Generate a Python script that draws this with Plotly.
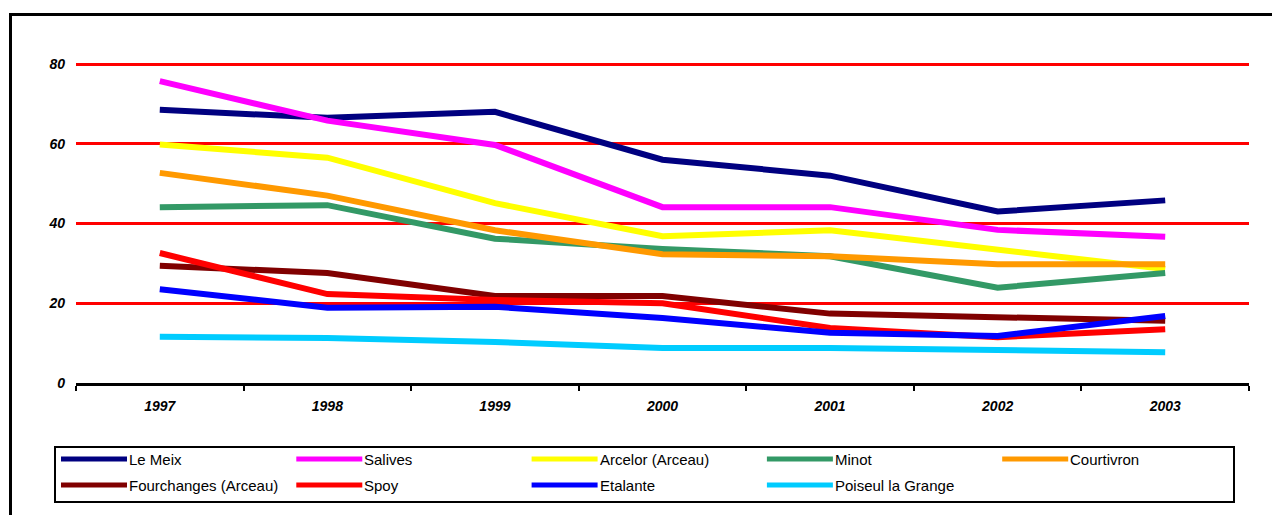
import plotly.graph_objects as go

# Production per site, 1997-2003
years = ["1997", "1998", "1999", "2000", "2001", "2002", "2003"]

le_meix = [68.5, 66.5, 68.0, 56.0, 52.0, 43.0, 45.8]
salives = [75.7, 65.8, 59.7, 44.1, 44.1, 38.4, 36.7]
arcelor = [59.8, 56.5, 45.1, 36.8, 38.3, 33.4, 28.6]
minot = [44.1, 44.6, 36.2, 33.6, 31.8, 23.9, 27.6]
courtivron = [52.7, 47.0, 38.3, 32.3, 31.8, 29.8, 29.8]
fourchanges = [29.4, 27.6, 21.8, 21.8, 17.4, 16.4, 15.6]
spoy = [32.6, 22.3, 20.8, 20.0, 13.8, 11.5, 13.5]
etalante = [23.5, 18.9, 19.1, 16.3, 12.6, 11.8, 16.8]
poiseul = [11.6, 11.3, 10.3, 8.8, 8.8, 8.1, 7.7]

series_names = ["Le Meix", "Salives", "Arcelor (Arceau)", "Minot", "Courtivron",
                "Fourchanges (Arceau)", "Spoy", "Etalante", "Poiseul la Grange"]
series_values = [le_meix, salives, arcelor, minot, courtivron,
                 fourchanges, spoy, etalante, poiseul]
series_colors = ["#000080", "#FF00FF", "#FFFF00", "#339966", "#FF9900",
                 "#800000", "#FF0000", "#0000FF", "#00CCFF"]

y_ticks = [0, 20, 40, 60, 80]

# page geometry (pixels); plot top sits a little above the 80 line
W, H = 1272, 515
L, R, T, B = 76, 23, 62, 132
PW, PH = W - L - R, H - T - B
Y_TOP = 80 * PH / (H - B - 64)


def px(xp):
    return (xp - L) / PW


def py(yp):
    return (H - B - yp) / PH


fig = go.Figure()
for name, vals, col in zip(series_names, series_values, series_colors):
    fig.add_trace(go.Scatter(x=years, y=vals, name=name, mode="lines",
                             line=dict(color=col, width=6),
                             showlegend=False))

tick_font = dict(family="Liberation Sans", size=14, color="black",
                 weight="bold", style="italic")

fig.update_xaxes(type="category", range=[-0.5, 6.5], showgrid=False,
                 showline=True, linecolor="black", linewidth=3,
                 ticks="outside", tickson="boundaries", ticklen=5,
                 tickwidth=2, tickcolor="black", tickfont=tick_font,
                 ticklabelstandoff=8, zeroline=False)
fig.update_yaxes(range=[0, Y_TOP], tickvals=y_ticks, ticktext=[str(v) for v in y_ticks],
                 showgrid=True, gridcolor="#FF0000", gridwidth=3,
                 showline=False, zeroline=False, ticks="",
                 tickfont=tick_font, ticklabelstandoff=10)

shapes = []
annotations = []

# outer chart frame (right and bottom edges fall off the page)
shapes.append(dict(type="rect", xref="paper", yref="paper",
                   x0=px(10.5), x1=px(1285), y0=py(530), y1=py(14.5),
                   line=dict(color="black", width=3), fillcolor="rgba(0,0,0,0)",
                   layer="above"))

# legend box
shapes.append(dict(type="rect", xref="paper", yref="paper",
                   x0=px(55), x1=px(1234), y0=py(502), y1=py(447),
                   line=dict(color="black", width=2), fillcolor="rgba(0,0,0,0)",
                   layer="above"))

col_x0, col_step = 61, 235.3
row_y0, row_step = 459, 26
sample_len = 66
for i, (name, col) in enumerate(zip(series_names, series_colors)):
    r, c = divmod(i, 5)
    x0 = col_x0 + c * col_step
    y0 = row_y0 + r * row_step
    shapes.append(dict(type="line", xref="paper", yref="paper",
                       x0=px(x0), x1=px(x0 + sample_len), y0=py(y0), y1=py(y0),
                       line=dict(color=col, width=5), layer="above"))
    annotations.append(dict(xref="paper", yref="paper", x=px(x0 + sample_len),
                            y=py(y0), text=name, showarrow=False,
                            xanchor="left", yanchor="middle", xshift=0,
                            font=dict(family="Liberation Sans", size=15,
                                      color="black")))

fig.update_layout(width=W, height=H, margin=dict(l=L, r=R, t=T, b=B),
                  plot_bgcolor="white", paper_bgcolor="white",
                  shapes=shapes, annotations=annotations, showlegend=False)

fig.write_html("out.html")
